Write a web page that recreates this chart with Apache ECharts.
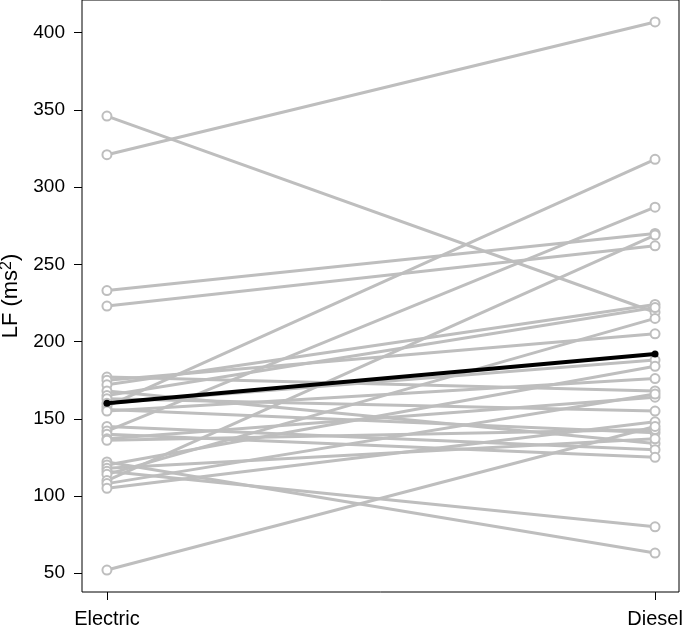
<!DOCTYPE html>
<html>
<head>
<meta charset="utf-8">
<script src="https://cdn.jsdelivr.net/npm/echarts@6/dist/echarts.min.js"></script>
<style>html,body{margin:0;padding:0;background:#fff}#c{width:685px;height:628px}</style>
</head>
<body>
<div id="c"></div>
<script>
const categories = ['Electric', 'Diesel'];
const electric = [346, 321, 233, 223, 177, 175, 172, 168, 165, 163, 160, 158, 156, 155, 145, 142, 140, 137, 136, 122, 120, 118, 116, 114, 110, 108, 105, 52];
const diesel   = [219, 407, 270, 262, 168, 205, 224, 134, 222, 155, 188, 318, 141, 176, 130, 287, 125, 164, 143, 63, 184, 137, 80, 215, 269, 166, 148, 145];
const meanValues = [160, 192];
const yTicks = [50, 100, 150, 200, 250, 300, 350, 400];

const FONT = 'Liberation Sans, Arial, Helvetica, sans-serif';
const series = [];
for (let i = 0; i < electric.length; i++) {
  series.push({
    type: 'line',
    data: [[1, electric[i]], [2, diesel[i]]],
    symbol: 'emptyCircle',
    symbolSize: 9,
    lineStyle: { color: '#bebebe', width: 3 },
    itemStyle: { color: '#bebebe', borderColor: '#bebebe', borderWidth: 2.5 },
    silent: true,
    animation: false,
    z: 2
  });
}
series.push({
  type: 'line',
  data: [[1, meanValues[0]], [2, meanValues[1]]],
  symbol: 'circle',
  symbolSize: 7,
  lineStyle: { color: '#000', width: 4 },
  itemStyle: { color: '#000' },
  silent: true,
  animation: false,
  z: 5
});

const chart = echarts.init(document.getElementById('c'), null, { renderer: 'canvas' });
chart.setOption({
  backgroundColor: '#fff',
  animation: false,
  grid: { left: 82, right: 6, top: 0, bottom: 36, outerBoundsMode: 'none', containLabel: false,
    show: true, borderColor: '#000', borderWidth: 1, backgroundColor: 'transparent' },
  xAxis: {
    type: 'value', min: 0.9545, max: 2.0437,
    axisLine: { show: false },
    splitLine: { show: false },
    axisTick: { show: true, length: 8, lineStyle: { color: '#000', width: 1 }, customValues: [1, 2] },
    axisLabel: { customValues: [1, 2], formatter: v => categories[Math.round(v) - 1], color: '#000', fontFamily: FONT, fontSize: 20, margin: 17 }
  },
  yAxis: {
    type: 'value', min: 37.8, max: 421.2,
    name: 'LF (ms{s|2})', nameLocation: 'middle', nameGap: 53, nameRotate: 90,
    nameTextStyle: { color: '#000', fontFamily: FONT, fontSize: 22,
      rich: { s: { fontFamily: FONT, fontSize: 16, color: '#000', verticalAlign: 'bottom', padding: [0, 0, 9, 0] } } },
    axisLine: { show: false },
    splitLine: { show: false },
    axisTick: { show: true, length: 8, lineStyle: { color: '#000', width: 1 }, customValues: yTicks },
    axisLabel: { customValues: yTicks, color: '#000', fontFamily: FONT, fontSize: 19, margin: 17 }
  },
  series: series
});
</script>
</body>
</html>
